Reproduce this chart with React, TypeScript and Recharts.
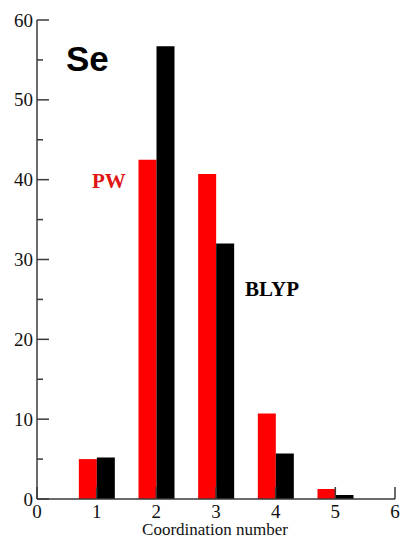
import { Bar, BarChart, XAxis, YAxis } from 'recharts'

const coordination = [1, 2, 3, 4, 5]
const pwValues = [5.0, 42.5, 40.7, 10.7, 1.25]
const blypValues = [5.2, 56.7, 32.0, 5.7, 0.5]
const xTicks = [0, 1, 2, 3, 4, 5, 6]
const yTicks = [0, 5, 10, 15, 20, 25, 30, 35, 40, 45, 50, 55, 60]

const data = coordination.map((c, i) => ({ c, pw: pwValues[i], blyp: blypValues[i] }))

const AXIS = '#3a3a3a'
const SERIF = '"Liberation Serif", "Times New Roman", serif'
const tickText = { fontFamily: SERIF, fontSize: 19, fill: '#111' }

function BottomTick(props: any) {
  const { x, y, payload } = props
  return (
    <g>
      <line x1={x} x2={x} y1={y} y2={y - 12} stroke={AXIS} strokeWidth={1.5} />
      <text x={x} y={y + 19} textAnchor="middle" style={tickText}>
        {payload.value}
      </text>
    </g>
  )
}

function TopTick(props: any) {
  const { x, y } = props
  return <line x1={x} x2={x} y1={y} y2={y + 12} stroke={AXIS} strokeWidth={1.5} />
}

function LeftTick(props: any) {
  const { x, y, payload } = props
  const major = payload.value % 10 === 0
  return (
    <g>
      <line x1={x} x2={x + (major ? 12 : 6)} y1={y} y2={y} stroke={AXIS} strokeWidth={1.5} />
      {major && (
        <text x={x - 4} y={y} dy="0.35em" textAnchor="end" style={tickText}>
          {payload.value}
        </text>
      )}
    </g>
  )
}

function RightTick(props: any) {
  const { x, y, payload } = props
  const major = payload.value % 10 === 0
  return <line x1={x} x2={x - (major ? 12 : 6)} y1={y} y2={y} stroke={AXIS} strokeWidth={1.5} />
}

export default function App() {
  return (
    <div style={{ position: 'absolute', left: 0, top: 0, width: 401, height: 540, background: '#fff' }}>
      <BarChart
        width={401}
        height={540}
        data={data}
        margin={{ top: 20, right: 6, bottom: 0, left: 0 }}
        barGap={0}
      >
        <XAxis
          dataKey="c"
          type="number"
          domain={[0, 6]}
          ticks={xTicks}
          interval={0}
          allowDataOverflow
          height={41}
          tickSize={0}
          tickMargin={0}
          tickLine={false}
          tick={BottomTick}
          axisLine={{ stroke: AXIS, strokeWidth: 1.5 }}
        />
        <XAxis
          xAxisId="top"
          orientation="top"
          type="number"
          domain={[0, 6]}
          ticks={xTicks}
          interval={0}
          allowDataOverflow
          height={0}
          tickSize={0}
          tickMargin={0}
          tickLine={false}
          tick={TopTick}
          axisLine={{ stroke: AXIS, strokeWidth: 1.5 }}
        />
        <YAxis
          type="number"
          domain={[0, 60]}
          ticks={yTicks}
          interval={0}
          allowDataOverflow
          width={37}
          tickSize={0}
          tickMargin={0}
          tickLine={false}
          tick={LeftTick}
          axisLine={{ stroke: AXIS, strokeWidth: 1.5 }}
        />
        <YAxis
          yAxisId="right"
          orientation="right"
          type="number"
          domain={[0, 60]}
          ticks={yTicks}
          interval={0}
          allowDataOverflow
          width={0}
          tickSize={0}
          tickMargin={0}
          tickLine={false}
          tick={RightTick}
          axisLine={{ stroke: AXIS, strokeWidth: 1.5 }}
        />
        <Bar dataKey="pw" fill="#ff0000" barSize={18} isAnimationActive={false} />
        <Bar dataKey="blyp" fill="#000000" barSize={18} isAnimationActive={false} />
      </BarChart>
      {/* annotations drawn as plain svg text over the plot */}
      <svg
        width={401}
        height={540}
        style={{ position: 'absolute', left: 0, top: 0, pointerEvents: 'none' }}
      >
        <text x={66} y={71} style={{ fontFamily: '"Liberation Sans", Arial, sans-serif', fontWeight: 'bold', fontSize: 35, fill: '#000' }}>
          Se
        </text>
        <text x={92} y={188} style={{ fontFamily: SERIF, fontWeight: 'bold', fontSize: 21, fill: '#e01515' }}>
          PW
        </text>
        <text x={245} y={296} style={{ fontFamily: SERIF, fontWeight: 'bold', fontSize: 21, fill: '#000' }}>
          BLYP
        </text>
        <text x={215} y={535} textAnchor="middle" style={{ fontFamily: SERIF, fontSize: 17, fill: '#111' }}>
          Coordination number
        </text>
      </svg>
    </div>
  )
}
